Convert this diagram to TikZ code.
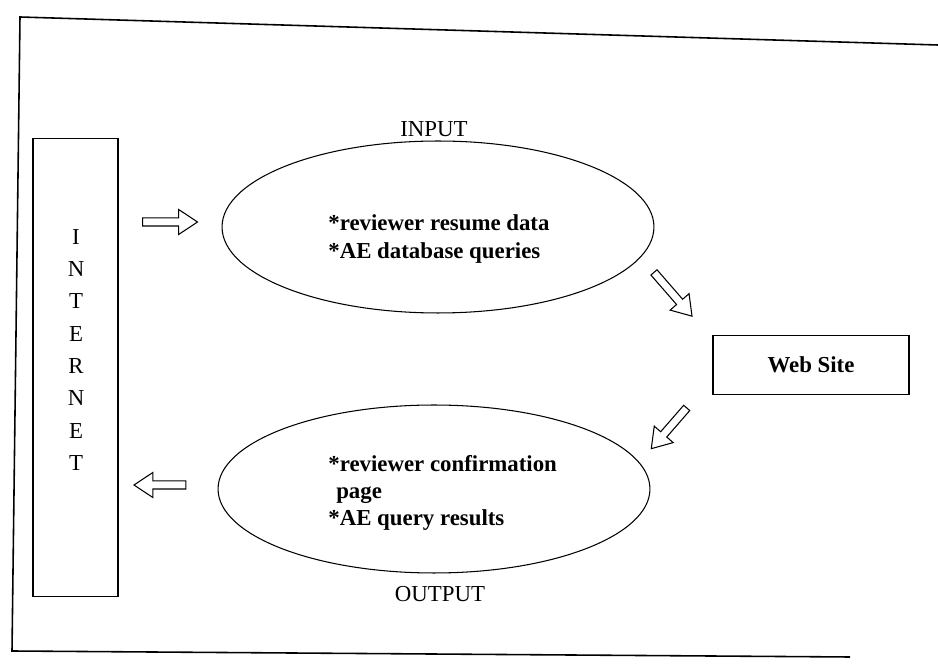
\documentclass[tikz,border=0pt]{standalone}
\usepackage{fontspec}
\setmainfont{Liberation Serif}
\usepackage{tikz}
\usetikzlibrary{shapes.geometric,shapes.arrows}

\begin{document}
\begin{tikzpicture}[x=0.02cm,y=-0.02cm,line width=0.6pt,
  font=\fontsize{13}{15.5}\selectfont,
  fatarrow/.style={single arrow,draw,inner xsep=0pt,inner ysep=0.07cm,outer sep=0pt,
    single arrow head extend=0.17cm,single arrow tip angle=67,minimum height=#1},
  oval/.style={ellipse,draw,minimum width=8.64cm,minimum height=#1},
  item/.style={anchor=west,align=left,font=\fontsize{13}{15.5}\bfseries}]
\useasboundingbox (0,0) rectangle (938,665);
% frame of the page
\draw[line width=0.9pt](938,45)--(20,17)--(12,651)--(850,657);
% internet column
\node[draw,minimum width=1.7cm,minimum height=9.18cm,inner sep=0pt] (net) at (75.5,367.5) {};
\node[align=center,font=\fontsize{13}{18.4}\selectfont] (nettext) at (76,350) {I\\N\\T\\E\\R\\N\\E\\T};
% input and output
\node[oval=3.44cm] (inp) at (438,227) {};
\node (inplabel) at (434,129) {INPUT};
\node[item] (inptext) at (322,239) {*reviewer resume data\\*AE database queries};
\node[oval=3.36cm] (outp) at (434,489) {};
\node (outplabel) at (440,594) {OUTPUT};
\node[item] (outptext) at (322,493) {*reviewer confirmation\\\hspace*{4.5pt}page\\*AE query results};
% web site
\node[draw,minimum width=3.92cm,minimum height=1.18cm,inner sep=0pt,font=\fontsize{13}{15.5}\bfseries] (web) at (811,365) {Web Site};
% hollow arrows
\node[fatarrow=1.1cm] (a1) at (167,222) {};
\node[fatarrow=1.16cm,rotate=-49] (a2) at (671,292) {};
\node[fatarrow=1.08cm,rotate=-131] (a3) at (671,426) {};
\node[fatarrow=1.04cm,rotate=180] (a4) at (163,485) {};
\end{tikzpicture}
\end{document}
